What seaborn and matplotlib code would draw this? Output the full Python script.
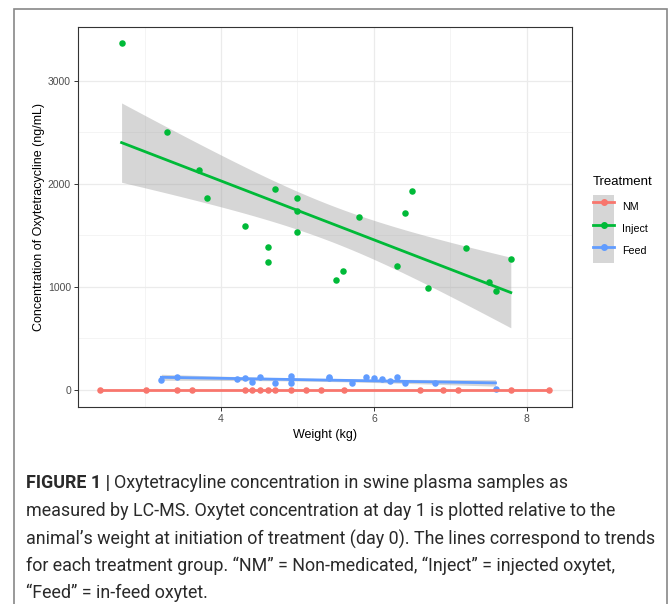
import numpy as np
import pandas as pd
import matplotlib
matplotlib.use("Agg")
import matplotlib.pyplot as plt
import seaborn as sns
from matplotlib.lines import Line2D
from matplotlib.patches import Patch, Rectangle

# --- data ---
nm_weight = [2.42, 3.02, 3.42, 3.62, 4.31, 4.41, 4.51, 4.61, 4.71, 4.91, 5.11,
             5.31, 5.61, 6.60, 6.90, 7.10, 7.79, 8.29]
nm_conc = [0] * len(nm_weight)

inject_weight = [2.70, 3.30, 3.71, 3.82, 4.31, 4.61, 4.61, 4.71, 5.00, 5.00, 5.00,
                 5.50, 5.60, 5.80, 6.30, 6.41, 6.50, 6.71, 7.20, 7.50, 7.60, 7.79]
inject_conc = [3369, 2505, 2136, 1864, 1592, 1392, 1243, 1951, 1864, 1738, 1534,
               1068, 1155, 1680, 1204, 1718, 1932, 990, 1379, 1049, 961, 1272]

feed_weight = [3.22, 3.42, 4.21, 4.31, 4.41, 4.51, 4.71, 4.91, 4.91, 4.91, 5.41,
               5.41, 5.71, 5.90, 6.00, 6.10, 6.21, 6.30, 6.41, 6.80, 7.59]
feed_conc = [94, 129, 110, 114, 75, 123, 65, 139, 104, 71, 129,
             118, 68, 123, 114, 107, 87, 129, 65, 71, 7]

groups = ["NM", "Inject", "Feed"]
palette = {"NM": "#F8766D", "Inject": "#00BA38", "Feed": "#619CFF"}

df = pd.concat([
    pd.DataFrame({"Weight": nm_weight, "Conc": nm_conc, "Treatment": "NM"}),
    pd.DataFrame({"Weight": inject_weight, "Conc": inject_conc, "Treatment": "Inject"}),
    pd.DataFrame({"Weight": feed_weight, "Conc": feed_conc, "Treatment": "Feed"}),
])

caption_lines = [
    "measured by LC-MS. Oxytet concentration at day 1 is plotted relative to the",
    "animal\u2019s weight at initiation of treatment (day 0). The lines correspond to trends",
    "for each treatment group. \u201cNM\u201d = Non-medicated, \u201cInject\u201d = injected oxytet,",
    "\u201cFeed\u201d = in-feed oxytet.",
]

# 97.5% t quantiles for the lm confidence band (like geom_smooth(method="lm"))
t975 = {16: 2.120, 19: 2.093, 20: 2.086}


def lm_band(x, y, grid):
    x = np.asarray(x, float)
    y = np.asarray(y, float)
    X = np.column_stack([np.ones_like(x), x])
    beta, *_ = np.linalg.lstsq(X, y, rcond=None)
    resid = y - X @ beta
    dof = len(x) - 2
    s2 = resid @ resid / dof
    G = np.column_stack([np.ones_like(grid), grid])
    se = np.sqrt(np.einsum("ij,jk,ik->i", G, np.linalg.inv(X.T @ X), G) * s2)
    fit = G @ beta
    return fit - t975[dof] * se, fit + t975[dof] * se


plt.rcParams["font.family"] = ["Liberation Sans", "DejaVu Sans"]

fig = plt.figure(figsize=(6.7, 6.04), dpi=100)
ax = fig.add_axes([0.1164, 0.3267, 0.7373, 0.6286])

for g in groups:
    sub = df[df.Treatment == g]
    grid = np.linspace(sub.Weight.min(), sub.Weight.max(), 100)
    lo, hi = lm_band(sub.Weight, sub.Conc, grid)
    ax.fill_between(grid, lo, hi, color=(0.6, 0.6, 0.6), alpha=0.4, lw=0, zorder=2)
    sns.regplot(data=sub, x="Weight", y="Conc", ax=ax, color=palette[g],
                ci=None, truncate=True,
                scatter_kws={"s": 22, "alpha": 1, "linewidths": 0, "zorder": 3},
                line_kws={"lw": 2.0, "zorder": 4})

ax.set_xlim(2.13, 8.59)
ax.set_ylim(-162, 3524)
ax.set_xticks([4, 6, 8])
ax.set_yticks([0, 1000, 2000, 3000])
ax.set_xticks([3, 5, 7], minor=True)
ax.set_yticks([500, 1500, 2500], minor=True)
ax.grid(True, which="major", color="#EBEBEB", lw=0.9)
ax.grid(True, which="minor", color="#F2F2F2", lw=0.6)
ax.set_axisbelow(True)
ax.tick_params(which="major", length=3, width=0.7, color="#333333",
               labelsize=7.5, labelcolor="#4D4D4D", pad=2)
ax.tick_params(which="minor", length=0)
for s in ax.spines.values():
    s.set_color("#333333")
    s.set_linewidth(0.8)
ax.set_xlabel("Weight (kg)", fontsize=9, labelpad=4)
ax.set_ylabel("Concentration of Oxytetracycline (ng/mL)", fontsize=9, labelpad=2)

handles = [(Patch(facecolor="#D6D6D6", edgecolor="none"),
            Line2D([], [], color=palette[g], lw=2, marker="o", markersize=4))
           for g in groups]
leg = fig.legend(handles, groups, title="Treatment", loc="upper left",
                 bbox_to_anchor=(0.877, 0.717), frameon=False, fontsize=7.7,
                 title_fontsize=9.5, handlelength=2.0, handleheight=2.85,
                 labelspacing=0.0, handletextpad=0.7, borderpad=0)
leg._legend_box.align = "left"
leg._legend_box.sep = 5

# outer frame of the figure panel
fig.add_artist(Rectangle((0.0209, -0.05), 0.9746, 1.035, transform=fig.transFigure,
                         fill=False, edgecolor="#888888", lw=1.2))

# caption
cap_font = ["Roboto", "DejaVu Sans"]
cap_size = 12.9
cap_color = "#2A2A2A"
x0 = 26 / 670
ys = [483, 511, 539, 566, 593]
t1 = fig.text(x0, 1 - ys[0] / 604, "FIGURE 1 |", fontsize=cap_size, fontweight="bold",
              family=cap_font, color=cap_color, va="center")
fig.canvas.draw()
bb = t1.get_window_extent().transformed(fig.transFigure.inverted())
fig.text(bb.x1 + 0.006, 1 - ys[0] / 604,
         "Oxytetracyline concentration in swine plasma samples as",
         fontsize=cap_size, family=cap_font, color=cap_color, va="center")
for line, y in zip(caption_lines, ys[1:]):
    fig.text(x0, 1 - y / 604, line, fontsize=cap_size,
             family=cap_font, color=cap_color, va="center")

fig.savefig("out.png", dpi=100)
